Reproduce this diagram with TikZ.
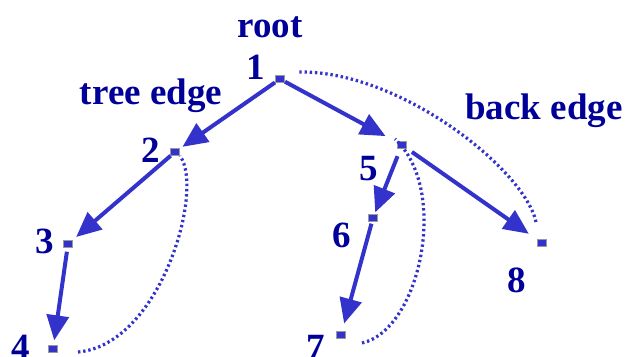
\documentclass[tikz,border=0pt]{standalone}
\usepackage{fontspec}
\setmainfont{Liberation Serif}
\usetikzlibrary{arrows.meta}
\definecolor{txtblue}{RGB}{0,0,153}
\definecolor{edgeblue}{RGB}{51,51,204}
\begin{document}
\begin{tikzpicture}[x=1pt,y=-1pt,
  vert/.style={draw=gray!80,fill=edgeblue,line width=1pt,minimum width=9pt,minimum height=6.5pt,inner sep=0pt,rectangle},
  lbl/.style={text=txtblue,font=\fontsize{37}{40}\selectfont\bfseries,anchor=base,inner sep=0pt},
  tree/.style={draw=edgeblue,line width=4pt,-{Triangle[length=25pt,width=22pt]}},
  back/.style={draw=edgeblue,line width=3.2pt,dash pattern=on 2.4pt off 2.8pt}]
\useasboundingbox (0,0) rectangle (626,356);
% vertices
\node[vert] (n1) at (280,79) {};
\node[vert] (n2) at (175,152) {};
\node[vert] (n3) at (68,244) {};
\node[vert] (n4) at (53,349) {};
\node[vert] (n5) at (402,145) {};
\node[vert] (n6) at (373,218) {};
\node[vert] (n7) at (341,335) {};
\node[vert] (n8) at (542,243) {};
% labels
\node[lbl] (lroot) at (270,37) {root};
\node[lbl] (l1) at (256,79) {1};
\node[lbl] (ltree) at (151,104) {tree edge};
\node[lbl] (l2) at (151,162) {2};
\node[lbl] (l3) at (45,253) {3};
\node[lbl] (l4) at (21,359) {4};
\node[lbl] (l5) at (369,180) {5};
\node[lbl] (l6) at (342,247) {6};
\node[lbl] (l7) at (316,359) {7};
\node[lbl] (l8) at (517,292) {8};
\node[lbl] (lback) at (544,119) {back edge};
% tree edges
\draw[tree,shorten >=3pt] (n1) -- (n2);
\draw[tree,shorten >=13pt] (n1) -- (n5);
\draw[tree,shorten >=5pt] (n2) -- (n3);
\draw[tree,shorten <=4pt,shorten >=5pt] (n3) -- (n4);
\draw[tree,shorten <=8pt,shorten >=2pt] (n5) -- (n6);
\draw[tree,shorten <=2pt,shorten >=8pt] (n6) -- (n7);
\draw[tree,shorten <=6pt,shorten >=10pt] (n5) -- (n8);
% back edges
\draw[back] ([xshift=25pt,yshift=-3pt]n4.center) .. controls +(82,-7) and +(25,34) .. ([xshift=5pt,yshift=-4pt]n2.center);
\draw[back] ([xshift=21pt,yshift=-8pt]n7.center) .. controls +(58,-13) and +(55,51) .. ([xshift=-7pt,yshift=6pt]n5.center);
\draw[back] ([xshift=-6pt,yshift=21pt]n8.center) .. controls +(-11,-52) and +(102,-2) .. ([xshift=18pt,yshift=7pt]n1.center);
\end{tikzpicture}
\end{document}
